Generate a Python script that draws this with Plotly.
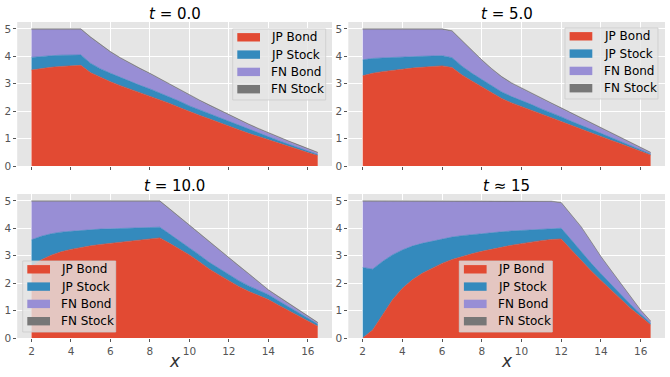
import plotly.graph_objects as go
from plotly.subplots import make_subplots

W, H = 670, 377
BG = '#E5E5E5'
TICK_COLOR = '#555555'
COLORS = ['#E24A33', '#348ABD', '#988ED5', '#777777']
NAMES = ['JP Bond', 'JP Stock', 'FN Bond', 'FN Stock']

x = [2, 2.5, 3, 3.5, 4, 4.5, 5, 5.5, 6, 6.5, 7, 7.5, 8, 8.5, 9, 9.5,
     10, 10.5, 11, 11.5, 12, 12.5, 13, 13.5, 14, 14.5, 15, 15.5, 16, 16.5]

# t = 0.0
jp_bond_t0 = [3.50, 3.56, 3.60, 3.63, 3.65, 3.67, 3.40, 3.22, 3.07, 2.93, 2.80, 2.67, 2.55, 2.41, 2.28,
              2.13, 1.98, 1.85, 1.72, 1.58, 1.45, 1.32, 1.19, 1.07, 0.95, 0.83, 0.72, 0.60, 0.49, 0.38]
jp_stock_t0 = [0.46, 0.44, 0.42, 0.41, 0.40, 0.38, 0.34, 0.32, 0.31, 0.30, 0.28, 0.27, 0.26, 0.25, 0.24,
               0.23, 0.21, 0.20, 0.19, 0.18, 0.16, 0.15, 0.14, 0.12, 0.11, 0.10, 0.08, 0.07, 0.05, 0.04]
fn_bond_t0 = [1.01, 0.97, 0.95, 0.93, 0.92, 0.92, 0.93, 0.85, 0.76, 0.69, 0.63, 0.59, 0.54, 0.49, 0.43,
              0.40, 0.37, 0.33, 0.29, 0.26, 0.23, 0.20, 0.17, 0.15, 0.12, 0.10, 0.09, 0.08, 0.07, 0.05]

# t = 5.0
jp_bond_t5 = [3.29, 3.38, 3.44, 3.49, 3.53, 3.57, 3.60, 3.63, 3.65, 3.59, 3.32, 3.10, 2.89, 2.67, 2.46,
              2.30, 2.17, 2.03, 1.89, 1.76, 1.62, 1.48, 1.35, 1.21, 1.08, 0.94, 0.81, 0.67, 0.54, 0.40]
jp_stock_t5 = [0.58, 0.54, 0.50, 0.47, 0.45, 0.42, 0.40, 0.38, 0.37, 0.36, 0.32, 0.28, 0.26, 0.25, 0.24,
               0.23, 0.22, 0.21, 0.19, 0.18, 0.17, 0.15, 0.14, 0.12, 0.11, 0.10, 0.08, 0.07, 0.05, 0.04]
fn_bond_t5 = [1.10, 1.05, 1.03, 1.01, 0.99, 0.98, 0.97, 0.96, 0.95, 0.95, 0.90, 0.80, 0.69, 0.60, 0.53,
              0.47, 0.42, 0.39, 0.37, 0.33, 0.30, 0.28, 0.24, 0.22, 0.18, 0.15, 0.12, 0.09, 0.06, 0.03]

# t = 10.0
jp_bond_t10 = [2.62, 2.85, 3.02, 3.14, 3.23, 3.30, 3.36, 3.41, 3.45, 3.49, 3.53, 3.57, 3.61, 3.65, 3.45,
               3.24, 3.03, 2.78, 2.52, 2.30, 2.08, 1.88, 1.70, 1.54, 1.40, 1.20, 1.00, 0.81, 0.62, 0.43]
jp_stock_t10 = [0.96, 0.86, 0.78, 0.72, 0.66, 0.62, 0.59, 0.56, 0.53, 0.50, 0.47, 0.44, 0.41, 0.39, 0.34,
                0.30, 0.27, 0.25, 0.24, 0.23, 0.22, 0.21, 0.20, 0.19, 0.18, 0.16, 0.14, 0.12, 0.10, 0.08]
fn_bond_t10 = [1.39, 1.26, 1.17, 1.11, 1.08, 1.05, 1.02, 1.00, 0.99, 0.98, 0.97, 0.96, 0.95, 0.93, 0.89,
               0.84, 0.79, 0.76, 0.74, 0.67, 0.61, 0.52, 0.42, 0.29, 0.15, 0.13, 0.11, 0.09, 0.06, 0.03]

# t ~ 15
jp_bond_t15 = [0.00, 0.29, 0.84, 1.39, 1.81, 2.12, 2.36, 2.55, 2.72, 2.86, 2.97, 3.07, 3.16, 3.24, 3.31,
               3.38, 3.44, 3.50, 3.55, 3.59, 3.61, 3.22, 2.82, 2.45, 2.10, 1.75, 1.40, 1.08, 0.78, 0.48]
jp_stock_t15 = [2.57, 2.22, 1.95, 1.64, 1.40, 1.23, 1.09, 0.98, 0.90, 0.82, 0.76, 0.70, 0.64, 0.60, 0.56,
                0.52, 0.48, 0.45, 0.42, 0.40, 0.39, 0.36, 0.32, 0.28, 0.24, 0.21, 0.17, 0.13, 0.09, 0.06]
fn_bond_t15 = [2.40, 2.46, 2.18, 1.94, 1.76, 1.62, 1.52, 1.44, 1.35, 1.29, 1.24, 1.20, 1.17, 1.13, 1.10,
               1.07, 1.05, 1.02, 1.00, 0.97, 0.91, 0.89, 0.89, 0.76, 0.60, 0.49, 0.40, 0.26, 0.12, 0.05]

fn_stock = [0.03] * 30

panels = [
    ('<i>t</i> = 0.0', [jp_bond_t0, jp_stock_t0, fn_bond_t0, fn_stock]),
    ('<i>t</i> = 5.0', [jp_bond_t5, jp_stock_t5, fn_bond_t5, fn_stock]),
    ('<i>t</i> = 10.0', [jp_bond_t10, jp_stock_t10, fn_bond_t10, fn_stock]),
    ('<i>t</i> ≈ 15', [jp_bond_t15, jp_stock_t15, fn_bond_t15, fn_stock]),
]

# legend boxes (top-left corner, in pixels) per panel
legend_corner = [(232.7, 29), (565, 28), (22.7, 261), (459.3, 261)]


def px_x(v):
    return v / W


def px_y(v):
    return 1 - v / H


fig = make_subplots(rows=2, cols=2)

for i, (title, layers) in enumerate(panels):
    row, col = i // 2 + 1, i % 2 + 1
    for name, vals, color in zip(NAMES, layers, COLORS):
        fig.add_trace(go.Scatter(
            x=x, y=vals, name=name, mode='lines',
            stackgroup='s%d' % i,
            line=dict(width=0.6, color=color),
            fillcolor=color,
            showlegend=False,
            hoverinfo='skip',
        ), row=row, col=col)

x_domains = [[17.2 / W, 332 / W], [348.3 / W, 665 / W]]
y_domains = [[1 - 166 / H, 1 - 22 / H], [1 - 338 / H, 1 - 194 / H]]

axis_style = dict(
    showgrid=True, gridcolor='white', gridwidth=1, zeroline=False,
    ticks='outside', ticklen=3, tickwidth=1, tickcolor=TICK_COLOR,
    tickfont=dict(size=10.5, color=TICK_COLOR), showline=False, automargin=False,
)
for i in range(4):
    r, c = i // 2, i % 2
    fig.update_xaxes(axis_style, row=r + 1, col=c + 1, domain=x_domains[c],
                     range=[1.275, 17.225], tickvals=[2, 4, 6, 8, 10, 12, 14, 16],
                     showticklabels=(r == 1))
    fig.update_yaxes(axis_style, row=r + 1, col=c + 1, domain=y_domains[r],
                     range=[0, 5.25], tickvals=[0, 1, 2, 3, 4, 5])

title_y = [1 - 13.5 / H, 1 - 185.5 / H]
for i, (title, _) in enumerate(panels):
    r, c = i // 2, i % 2
    fig.add_annotation(text=title, x=sum(x_domains[c]) / 2, y=title_y[r],
                       xref='paper', yref='paper', showarrow=False,
                       xanchor='center', yanchor='middle',
                       font=dict(size=15, color='black'))
for c in range(2):
    fig.add_annotation(text='<i>x</i>', x=sum(x_domains[c]) / 2, y=1 - 361 / H,
                       xref='paper', yref='paper', showarrow=False,
                       xanchor='center', yanchor='middle',
                       font=dict(size=17, color='#333333'))

# matplotlib-like legends drawn as boxes, patches and text
for bx, by in legend_corner:
    fig.add_shape(type='rect', xref='paper', yref='paper',
                  x0=px_x(bx), x1=px_x(bx + 93), y0=px_y(by + 71), y1=px_y(by),
                  fillcolor='rgba(229,229,229,0.8)', line=dict(color='rgba(204,204,204,0.8)', width=1))
    for k, (name, color) in enumerate(zip(NAMES, COLORS)):
        cy = by + 8.3 + k * 17.3
        fig.add_shape(type='rect', xref='paper', yref='paper',
                      x0=px_x(bx + 4.6), x1=px_x(bx + 27.3), y0=px_y(cy + 4.2), y1=px_y(cy - 4.2),
                      fillcolor=color, line=dict(width=0))
        fig.add_annotation(text=name, x=px_x(bx + 36.5), y=px_y(cy),
                           xref='paper', yref='paper', showarrow=False,
                           xanchor='left', yanchor='middle',
                           font=dict(size=12, color='black'))

fig.update_layout(
    width=W, height=H,
    margin=dict(l=0, r=0, t=0, b=0),
    paper_bgcolor='white', plot_bgcolor=BG,
    font=dict(family='DejaVu Sans'),
    showlegend=False,
)

fig.write_html("out.html", config={'displayModeBar': False},
               post_script="document.body.style.margin='0px';")
